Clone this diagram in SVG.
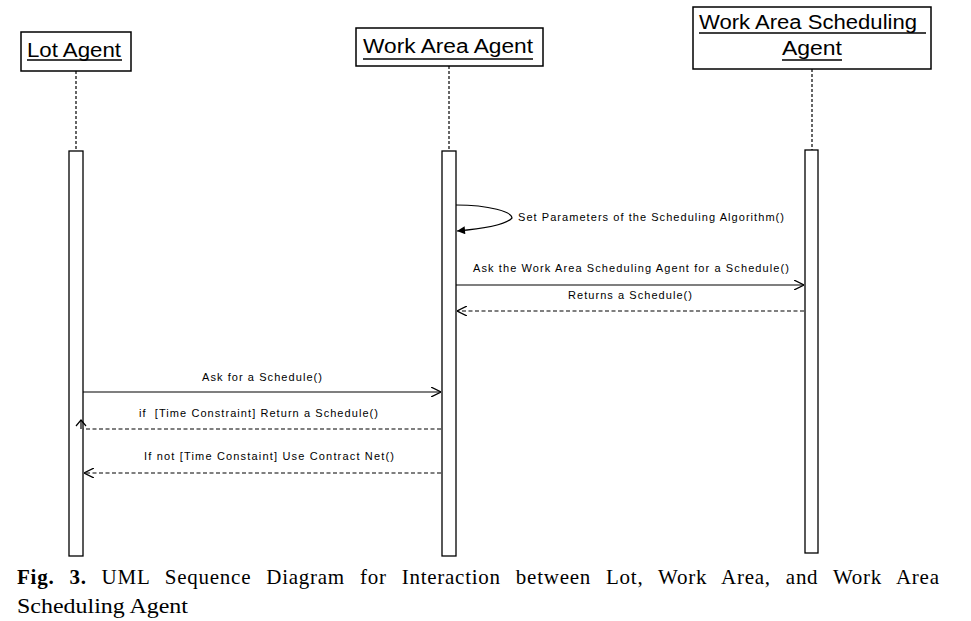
<svg xmlns="http://www.w3.org/2000/svg" width="971" height="621" viewBox="0 0 971 621">
<style>
.box{fill:#fff;stroke:#000;stroke-width:1.5}
.act{fill:#fff;stroke:#000;stroke-width:1.3}
.life{stroke:#000;stroke-width:1.2;stroke-dasharray:3,2;fill:none}
.msg{stroke:#000;stroke-width:1.2;fill:none}
.ret{stroke:#000;stroke-width:1.2;fill:none;stroke-dasharray:4,2.5}
.head{font-family:"Liberation Sans",Arial,sans-serif;font-size:20px;fill:#000}
.lbl{font-family:"Liberation Sans",Arial,sans-serif;font-size:11px;fill:#000}
.cap{font-family:"Liberation Serif","Times New Roman",serif;font-size:21px;fill:#000}
.ul{stroke:#000;stroke-width:1.3}
</style>
<defs>
<marker id="open" viewBox="0 0 10 10" refX="10" refY="5" markerWidth="10" markerHeight="10" markerUnits="userSpaceOnUse" orient="auto">
<path d="M0,0 L10,5 L0,10" fill="none" stroke="#000" stroke-width="1.3"/>
</marker>
<marker id="fill" viewBox="0 0 10 10" refX="10" refY="5" markerWidth="10" markerHeight="8" markerUnits="userSpaceOnUse" orient="auto">
<path d="M0,0 L10,5 L0,10 Z" fill="#000"/>
</marker>
</defs>
<rect width="971" height="621" fill="#fff"/>

<g id="lot-agent">
<rect class="box" x="21" y="32" width="110" height="39"/>
<text class="head" x="27" y="57" textLength="94" lengthAdjust="spacingAndGlyphs">Lot Agent</text>
<line class="ul" x1="27" y1="60" x2="122" y2="60"/>
<line class="life" x1="76" y1="71" x2="76" y2="151"/>
<rect class="act" x="69" y="151" width="14" height="405"/>
</g>

<g id="work-area-agent">
<rect class="box" x="356" y="28" width="187" height="38"/>
<text class="head" x="363" y="53" textLength="170" lengthAdjust="spacingAndGlyphs">Work Area Agent</text>
<line class="ul" x1="363" y1="59" x2="533" y2="59"/>
<line class="life" x1="449" y1="66" x2="449" y2="151"/>
<rect class="act" x="442" y="151" width="14" height="405"/>
</g>

<g id="work-area-scheduling-agent">
<rect class="box" x="693" y="7" width="238" height="62"/>
<text class="head" x="699" y="29" textLength="218" lengthAdjust="spacingAndGlyphs">Work Area Scheduling</text>
<line class="ul" x1="699" y1="33" x2="926" y2="33"/>
<text class="head" x="782" y="55" textLength="60" lengthAdjust="spacingAndGlyphs">Agent</text>
<line class="ul" x1="782" y1="60" x2="842" y2="60"/>
<line class="life" x1="812" y1="69" x2="812" y2="150"/>
<rect class="act" x="805" y="150" width="13" height="403"/>
</g>

<g id="connectors">
<path class="msg" d="M456,205 C490,205 512,212 512,218 C505,226 480,229 457,231" marker-end="url(#fill)"/>
<line class="msg" x1="456" y1="285" x2="804" y2="285" marker-end="url(#open)"/>
<line class="ret" x1="804" y1="311" x2="457" y2="311" marker-end="url(#open)"/>
<line class="msg" x1="83" y1="392" x2="441" y2="392" marker-end="url(#open)"/>
<line class="ret" x1="441" y1="429" x2="83" y2="429"/>
<polyline class="msg" points="76,426 81,420 86,426"/>
<line class="msg" x1="81" y1="420" x2="81" y2="429"/>
<line class="ret" x1="441" y1="473" x2="84" y2="473" marker-end="url(#open)"/>
</g>

<g id="labels">
<text class="lbl" x="518" y="221" textLength="266" lengthAdjust="spacing">Set Parameters of the Scheduling Algorithm()</text>
<text class="lbl" x="473" y="272" textLength="316" lengthAdjust="spacing">Ask the Work Area Scheduling Agent for a Schedule()</text>
<text class="lbl" x="568" y="299" textLength="124" lengthAdjust="spacing">Returns a Schedule()</text>
<text class="lbl" x="202" y="381" textLength="120" lengthAdjust="spacing">Ask for a Schedule()</text>
<text class="lbl" x="139" y="417" textLength="239" lengthAdjust="spacing" xml:space="preserve">if  [Time Constraint] Return a Schedule()</text>
<text class="lbl" x="144" y="460" textLength="250" lengthAdjust="spacing">If not [Time Constaint] Use Contract Net()</text>
</g>

<g id="caption">
<text class="cap" x="17" y="584" word-spacing="9" textLength="922" lengthAdjust="spacing"><tspan font-weight="bold">Fig. 3.</tspan> UML Sequence Diagram for Interaction between Lot, Work Area, and Work Area</text>
<text class="cap" x="17" y="613" textLength="171" lengthAdjust="spacingAndGlyphs">Scheduling Agent</text>
</g>
</svg>
